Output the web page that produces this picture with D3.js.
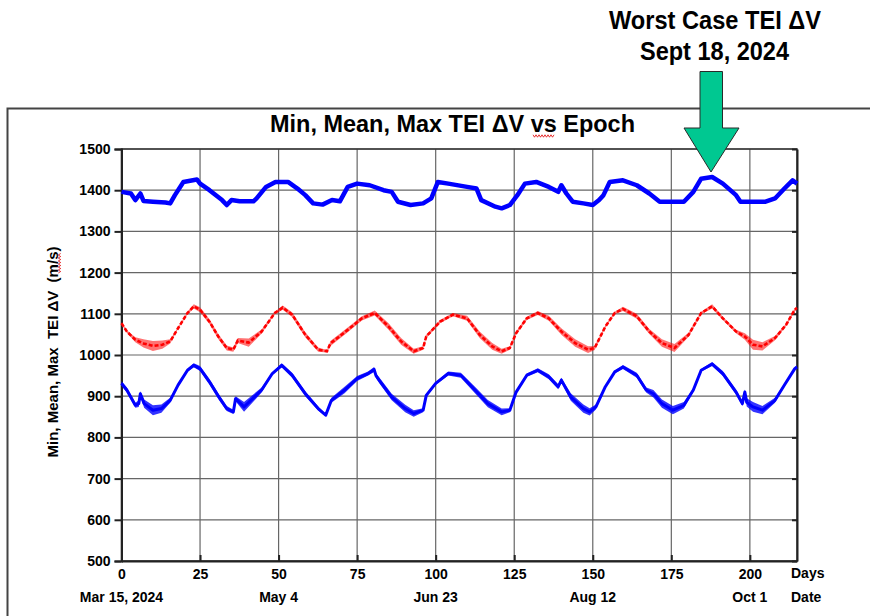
<!DOCTYPE html>
<html>
<head>
<meta charset="utf-8">
<script src="https://cdn.jsdelivr.net/npm/d3@7"></script>
<style>
  body { margin: 0; background: #fff; }
  svg text { font-family: "Liberation Sans", Arial, sans-serif; font-weight: bold; fill: #000; }
</style>
</head>
<body>
<div id="chart"></div>
<script>
// day tick labels and date labels under them
var dayTicks = [0, 25, 50, 75, 100, 125, 150, 175, 200];
var dateTicks = [0, 50, 100, 150, 200];
var dateLabels = ["Mar 15, 2024", "May 4", "Jun 23", "Aug 12", "Oct 1"];
var dvTicks = [500, 600, 700, 800, 900, 1000, 1100, 1200, 1300, 1400, 1500];

// [day, TEI dV m/s]
var maxDV = [[0,1396],[3,1392],[4.4,1376],[6,1392],[7,1374],[10,1372],[14,1370],[15.5,1368],[17,1388],[19.7,1420],[24,1426],[25,1416],[28,1400],[32,1376],[33.5,1364],[35,1376],[37.6,1373],[42,1373],[43,1380],[46,1408],[49,1420],[53,1420],[56,1404],[58.5,1388],[61,1368],[64,1365],[67,1376],[69.5,1373],[72,1408],[75,1416],[79,1412],[83.4,1400],[86,1396],[88,1372],[92,1364],[96,1368],[98.6,1380],[100.7,1420],[104,1416],[110,1408],[113,1404],[114.5,1376],[119,1360],[121,1356],[123.6,1364],[126,1388],[128.4,1416],[132,1420],[136,1408],[139,1396],[140,1412],[141.6,1392],[143.6,1372],[147,1368],[150,1364],[152,1376],[153.4,1388],[155.4,1420],[159.6,1424],[164,1412],[168,1392],[171.3,1372],[175.5,1372],[179,1372],[182,1396],[184.5,1428],[188,1432],[191.4,1416],[195.6,1388],[197,1372],[201,1372],[205,1372],[208,1380],[211,1404],[213.6,1424],[215,1416]];

// [day, mean dV, half spread of the day-to-day scatter]
var meanDV = [[0,1077,3],[1.7,1057,3],[4.4,1037,6],[7,1028,10],[10,1022,12],[13,1025,10],[15.5,1033,5],[18,1065,2],[21,1102,3],[23,1118,5],[25,1110,6],[28,1081,6],[30.8,1045,6],[33.5,1017,6],[35.6,1013,5],[37,1035,6],[40.5,1030,10],[44.6,1057,5],[48.8,1102,3],[51.3,1115,5],[54.3,1098,6],[58.5,1049,6],[62.6,1013,5],[65.4,1009,3],[66.5,1028,6],[72,1061,6],[76.5,1089,5],[80.6,1102,6],[85,1069,8],[89,1033,8],[93,1009,6],[96,1017,4],[97,1045,4],[101.4,1081,4],[105.5,1098,4],[110,1089,6],[114,1049,8],[118,1021,8],[121,1009,6],[123.6,1017,4],[125.6,1053,4],[129,1089,4],[132.5,1102,5],[136,1089,6],[140,1057,8],[144.4,1029,9],[148.5,1013,8],[150.6,1017,5],[154,1069,3],[157,1102,3],[159.6,1112,5],[164,1094,6],[168,1057,6],[172,1029,9],[176,1017,10],[180.5,1049,5],[184.5,1102,3],[188,1118,5],[191.4,1089,4],[195.6,1057,4],[198.4,1045,8],[201,1025,12],[204,1021,10],[208,1041,5],[211.5,1073,3],[214.3,1110,4],[215,1114,4]];

var minDV = [[0,931,6],[1.7,915,6],[4.4,878,6],[5.5,882,8],[6,906,6],[7.2,882,10],[10,866,12],[12.7,870,10],[15.5,890,6],[18,927,3],[21,963,3],[23,975,5],[25,967,6],[28,935,7],[31,898,7],[33.5,870,6],[35.6,862,5],[36,880,8],[36.3,894,6],[39,874,12],[44.6,915,6],[48,955,3],[51,975,5],[54.3,951,6],[58.5,906,6],[62.6,870,5],[65,854,3],[66.8,890,6],[71,915,8],[75,943,6],[78.5,955,5],[80.4,965,6],[81,950,6],[82,939,7],[86,898,8],[90.3,870,9],[93,858,8],[96,866,5],[97,902,4],[100,931,3],[104,955,5],[108,951,6],[112.5,915,8],[116.6,882,9],[121,862,8],[123.6,866,5],[125.6,910,4],[129,951,4],[132.5,963,5],[136,947,6],[139,923,6],[140,939,6],[141,925,7],[143,898,9],[147,870,10],[149,862,9],[151,874,6],[154,923,3],[157,959,3],[159.6,971,5],[164,951,6],[167,915,6],[169.3,906,9],[172,882,10],[175.5,866,10],[179,878,8],[182,915,4],[184.5,963,3],[188,978,5],[191.4,955,6],[195.6,910,6],[197.6,882,6],[198.4,910,6],[199,885,10],[201,874,12],[204,866,10],[208,890,6],[211,927,3],[214.3,967,3],[215,971,4]];

var width = 870, height = 616;
var plotL = 121.5, plotR = 797, plotT = 149, plotB = 561;

var svg = d3.select("#chart").append("svg")
    .attr("width", width).attr("height", height);

// outer slide box
svg.append("path")
    .attr("d", "M870,108.5H7.5V616")
    .attr("fill", "none")
    .attr("stroke", "#444")
    .attr("stroke-width", 2);

var x = d3.scaleLinear().domain([0, 215]).range([plotL, plotR]);
var y = d3.scaleLinear().domain([500, 1500]).range([plotB, plotT]);

// grid
svg.append("g").selectAll("line").data(dayTicks).join("line")
    .attr("x1", d => x(d)).attr("x2", d => x(d))
    .attr("y1", plotT).attr("y2", plotB)
    .attr("stroke", "#666").attr("stroke-width", 1.2);
svg.append("g").selectAll("line").data(dvTicks).join("line")
    .attr("x1", plotL).attr("x2", plotR)
    .attr("y1", d => y(d)).attr("y2", d => y(d))
    .attr("stroke", "#666").attr("stroke-width", 1.2);

svg.append("rect")
    .attr("x", plotL).attr("y", plotT)
    .attr("width", plotR - plotL).attr("height", plotB - plotT)
    .attr("fill", "none").attr("stroke", "#333").attr("stroke-width", 1.5);

// axes
var yAxis = svg.append("g")
    .attr("transform", `translate(${plotL},0)`)
    .call(d3.axisLeft(y).tickValues(dvTicks).tickFormat(d3.format("d")).tickSize(7).tickPadding(4));
var xAxis = svg.append("g")
    .attr("transform", `translate(0,${plotB})`)
    .call(d3.axisBottom(x).tickValues(dayTicks).tickSizeInner(-6).tickSizeOuter(0).tickPadding(8));
var rAxis = svg.append("g")
    .attr("transform", `translate(${plotR},0)`)
    .call(d3.axisRight(y).tickValues(dvTicks).tickSizeInner(-5).tickSizeOuter(0).tickFormat(""));

[yAxis, xAxis, rAxis].forEach(function (g) {
    g.select(".domain").attr("stroke", "#222").attr("stroke-width", 2);
    g.selectAll(".tick line").attr("stroke", "#222").attr("stroke-width", 2);
    g.selectAll("text").style("font-size", "14px").style("font-family", "Liberation Sans, Arial, sans-serif")
        .style("font-weight", "bold").attr("fill", "#000");
});

// date labels
svg.append("g").selectAll("text").data(dateTicks).join("text")
    .attr("x", d => x(d)).attr("y", 602)
    .attr("text-anchor", "middle")
    .style("font-size", "14px")
    .text((d, i) => dateLabels[i]);

svg.append("text").attr("x", 791).attr("y", 578).style("font-size", "14px").text("Days");
svg.append("text").attr("x", 791).attr("y", 602).style("font-size", "14px").text("Date");

// series
var line = d3.line().x(d => x(d[0])).y(d => y(d[1]));
var band = d3.area().x(d => x(d[0])).y0(d => y(d[1] - d[2])).y1(d => y(d[1] + d[2]));

svg.append("path").datum(maxDV)
    .attr("d", line).attr("fill", "none")
    .attr("stroke", "#0000ff").attr("stroke-width", 4.5).attr("stroke-linejoin", "round");

svg.append("path").datum(meanDV)
    .attr("d", band).attr("fill", "#ff0000").attr("fill-opacity", 0.55);
svg.append("path").datum(meanDV)
    .attr("d", line).attr("fill", "none")
    .attr("stroke", "#ff0000").attr("stroke-width", 2.6).attr("stroke-dasharray", "4,2");

svg.append("path").datum(minDV)
    .attr("d", band).attr("fill", "#0000ff").attr("fill-opacity", 0.8);
svg.append("path").datum(minDV)
    .attr("d", line).attr("fill", "none")
    .attr("stroke", "#0000ff").attr("stroke-width", 3).attr("stroke-linejoin", "round");

// title
svg.append("text")
    .attr("x", 270).attr("y", 132)
    .attr("textLength", 365).attr("lengthAdjust", "spacingAndGlyphs")
    .style("font-size", "24px")
    .text("Min, Mean, Max TEI \u0394V vs Epoch");

// spell-check squiggles
function squiggle(x0, y0, len, vertical) {
    var pts = [];
    for (var i = 0; i <= len; i += 1.5) {
        var o = (Math.round(i / 1.5) % 2) ? 1.2 : -1.2;
        pts.push(vertical ? [x0 + o, y0 - i] : [x0 + i, y0 + o]);
    }
    svg.append("path").attr("d", d3.line()(pts))
        .attr("fill", "none").attr("stroke", "#e00000").attr("stroke-width", 0.8);
}
squiggle(533, 136, 21, false);

// y axis title
svg.append("text")
    .attr("transform", "translate(58,352) rotate(-90)")
    .attr("text-anchor", "middle")
    .attr("textLength", 211).attr("lengthAdjust", "spacingAndGlyphs")
    .style("font-size", "14px")
    .style("white-space", "pre")
    .text("Min, Mean, Max  TEI \u0394V  (m/s)");
squiggle(59.5, 273, 20, true);

// worst case callout
svg.append("text")
    .attr("x", 609).attr("y", 29)
    .attr("textLength", 212).attr("lengthAdjust", "spacingAndGlyphs")
    .style("font-size", "25px")
    .text("Worst Case TEI \u0394V");
svg.append("text")
    .attr("x", 640).attr("y", 60)
    .attr("textLength", 149).attr("lengthAdjust", "spacingAndGlyphs")
    .style("font-size", "25px")
    .text("Sept 18, 2024");

svg.append("polygon")
    .attr("points", "700,71.5 722.5,71.5 722.5,128 739,128 711,172 684,128 700,128")
    .attr("fill", "#00c891")
    .attr("stroke", "#2a2a2a")
    .attr("stroke-width", 1);
</script>
</body>
</html>
